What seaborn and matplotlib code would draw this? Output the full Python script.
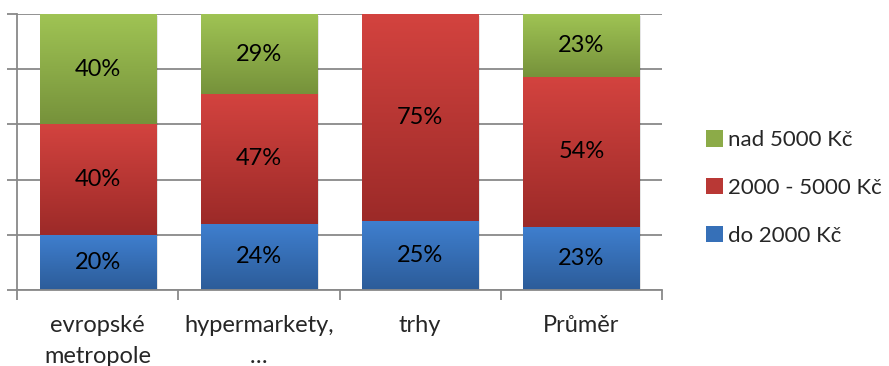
import numpy as np
import pandas as pd
import matplotlib
matplotlib.use("Agg")
import matplotlib.pyplot as plt
import seaborn as sns
from matplotlib.patches import Patch
from matplotlib.colors import LinearSegmentedColormap

# Spending shares (%) per shopping place
categories = ["evropské\nmetropole", "hypermarkety,\n…", "trhy", "Průměr"]
do_2000 = [20, 24, 25, 23]
od_2000_do_5000 = [40, 47, 75, 54]
nad_5000 = [40, 29, 0, 23]
series_names = ["do 2000 Kč", "2000 - 5000 Kč", "nad 5000 Kč"]
y_ticks = [0, 20, 40, 60, 80, 100]

# (top colour, bottom colour) of each vertical gradient
gradient_colors = [
    ("#3F7FCF", "#2C5C99"),
    ("#D3433F", "#9C2A28"),
    ("#A0C454", "#76923B"),
]
mid_colors = ["#3670B8", "#B93835", "#8CAB48"]

sns.set_theme(style="white")
plt.rcParams["font.family"] = ["Lato", "DejaVu Sans"]

FS = 17
gray = "#898989"
fig = plt.figure(figsize=(8.89, 3.66), dpi=100)
ax = fig.add_axes([17 / 889, 76 / 366, 645 / 889, 276 / 366])

bottom = np.zeros(len(categories))
for name, vals, (c_top, c_bot), mid in zip(
    series_names, [do_2000, od_2000_do_5000, nad_5000], gradient_colors, mid_colors
):
    df = pd.DataFrame({"kategorie": categories, "podil": vals})
    n_before = len(ax.patches)
    sns.barplot(
        data=df, x="kategorie", y="podil", bottom=bottom, color=mid,
        saturation=1, width=0.72, errorbar=None, ax=ax, zorder=2,
    )
    cmap = LinearSegmentedColormap.from_list(name, [c_bot, c_top])
    grad = np.linspace(0, 1, 256).reshape(-1, 1)
    for patch, v in zip(ax.patches[n_before:], vals):
        x0, y0 = patch.get_x(), patch.get_y()
        w, h = patch.get_width(), patch.get_height()
        if h <= 0:
            continue
        patch.set_edgecolor("none")
        # soft drop shadow on the right side
        ax.add_patch(plt.Rectangle((x0 + w, y0 - 0.6), 0.012, h, color="#000000",
                                   alpha=0.10, lw=0, zorder=1.5))
        im = ax.imshow(grad, extent=[x0, x0 + w, y0, y0 + h], origin="lower",
                       aspect="auto", cmap=cmap, zorder=2.1, interpolation="bilinear")
        im.set_clip_path(patch)
        ax.text(x0 + w / 2, y0 + h / 2, f"{v}%", ha="center", va="center",
                fontsize=FS, color="black", zorder=4)
    bottom = bottom + np.array(vals)

ax.set_xlim(-0.5, len(categories) - 0.5)
ax.set_ylim(0, 100)
ax.set_aspect("auto")
ax.set_xlabel("")
ax.set_ylabel("")

ax.set_yticks(y_ticks)
ax.set_yticklabels([])
ax.yaxis.grid(True, color=gray, lw=1.3)
ax.set_axisbelow(True)
ax.tick_params(axis="y", which="major", left=True, length=7, width=1.3,
               color=gray, direction="out")

ax.set_xticks(range(len(categories)))
ax.set_xticklabels(categories, fontsize=FS, linespacing=1.6)
ax.set_xticks(np.arange(-0.5, len(categories), 1.0), minor=True)
ax.tick_params(axis="x", which="major", length=0, pad=18)
ax.tick_params(axis="x", which="minor", bottom=True, length=7, width=1.3,
               color=gray, direction="out")

for side in ["top", "right"]:
    ax.spines[side].set_visible(False)
for side in ["left", "bottom"]:
    ax.spines[side].set_color(gray)
    ax.spines[side].set_linewidth(1.3)

handles = [Patch(facecolor=mid_colors[i], edgecolor="none") for i in (2, 1, 0)]
labels = [series_names[i] for i in (2, 1, 0)]
fig.legend(handles, labels, loc="center left",
           bbox_to_anchor=(706 / 889, (366 - 188) / 366), frameon=False,
           fontsize=16, handlelength=0.75, handleheight=0.75,
           handletextpad=0.25, labelspacing=1.25, borderpad=0, borderaxespad=0)

fig.savefig("out.png", dpi=100)
